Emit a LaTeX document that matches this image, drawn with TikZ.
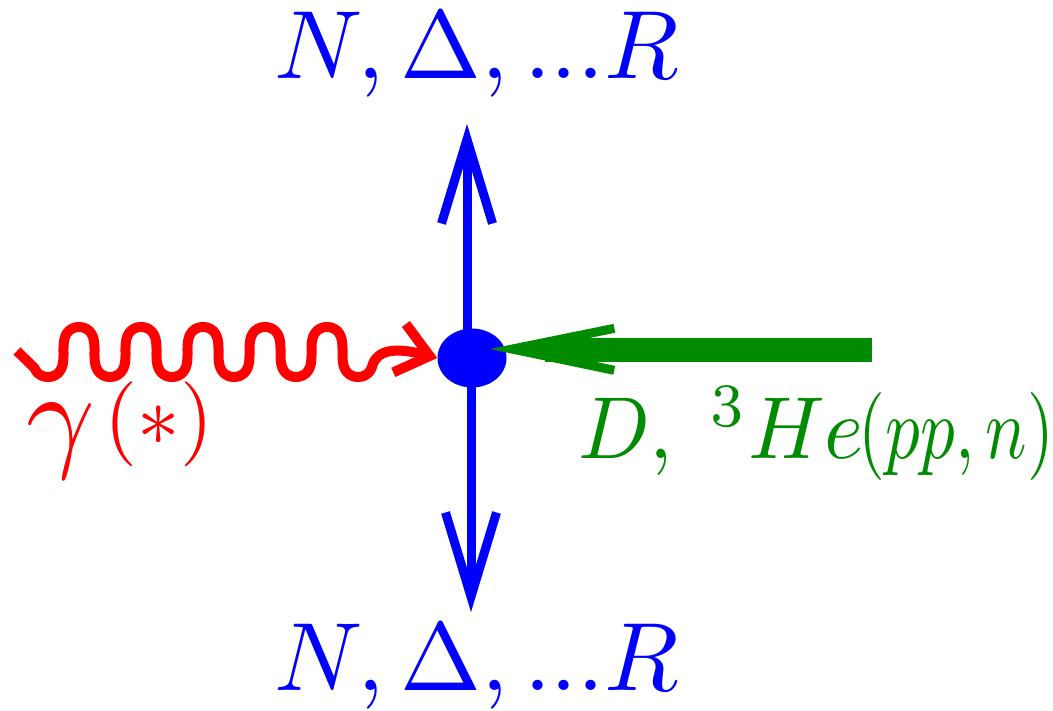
\documentclass[tikz,border=0pt]{standalone}
\usepackage{graphicx}
\usetikzlibrary{arrows.meta,shapes.geometric}
\definecolor{fgreen}{RGB}{0,139,0}
\tikzset{
  lbl/.style={inner sep=0pt, outer sep=0pt},
  blueline/.style={draw=blue, line width=9pt,
    -{Straight Barb[length=84pt,width=51pt,line cap=butt,line join=miter]}},
  photon/.style={draw=red, line width=10pt,
    -{Straight Barb[length=31pt,width=50pt,line cap=butt,line join=miter]}},
  greenarrow/.style={draw=fgreen, line width=9pt,
    -{Straight Barb[length=102pt,width=42pt,line cap=butt,line join=miter]}},
  greenshaft/.style={draw=fgreen, line width=24pt},
  vertex/.style={ellipse, fill=blue, minimum width=69pt, minimum height=59pt, inner sep=0pt}
}
\begin{document}
\begin{tikzpicture}[x=1pt,y=-1pt]
\useasboundingbox (0,0) rectangle (1053,711);
% coordinates
\coordinate (c) at (472,358);
\coordinate (topend) at (467,124);
\coordinate (botend) at (471,612);
\coordinate (redstart) at (17,351);
\coordinate (gstart) at (872,350);
\coordinate (gtip) at (490,349);
\coordinate (gshaftend) at (545,350);
% labels
\node[lbl, text=blue, anchor=base west] (top) at (274,79)
  {\scalebox{9.7}{$N,\Delta,...R$}};
\node[lbl, text=blue, anchor=base west] (bot) at (274,690)
  {\scalebox{9.7}{$N,\Delta,...R$}};
\node[lbl, text=red, anchor=base west] (gam) at (26,456)
  {\scalebox{12}{$\gamma$}\kern10pt\raisebox{10pt}{\scalebox{8.5}{$(*)$}}};
\node[lbl, text=fgreen, anchor=base west] (glab) at (578,458)
  {\scalebox{8.4}[8.8]{$D,\;{}^3He$}\kern-5pt\scalebox{6.9}[8.8]{$(pp,n)$}};
% blue lines (under the vertex)
\draw[blueline] (topend |- c) -- (topend);
\draw[blueline] (botend |- c) -- (botend);
% vertex
\node[vertex] (v) at (c) {};
% photon
\draw[photon] (redstart) -- plot[domain=-230:1680, samples=400, smooth, variable=\t]
  ({79 + 0.172222*\t + 5*sin(2*\t)}, {352 - 25*cos(\t)})
  .. controls (378,350) and (395,347) .. (v.west);
% green
\draw[greenshaft] (gstart) -- (gshaftend);
\draw[greenarrow] (gstart) -- (gtip);
\end{tikzpicture}
\end{document}
